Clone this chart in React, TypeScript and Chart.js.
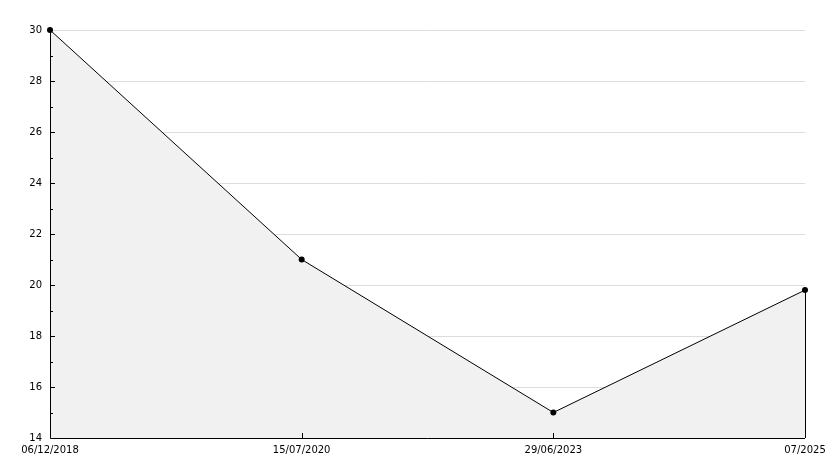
import React, { useEffect, useRef } from "react";
import { Chart, registerables } from "chart.js";

Chart.register(...registerables);

const categories = ["06/12/2018", "15/07/2020", "29/06/2023", "07/2025"];
const values = [30, 21, 15, 19.8];
const yMin = 14;
const yMax = 30;

const ticksPlugin = {
  id: "innerTicks",
  afterDatasetsDraw(chart: any) {
    const { ctx, chartArea, scales } = chart;
    const x = scales.x;
    const y = scales.y;
    ctx.save();
    ctx.strokeStyle = "#000";
    ctx.lineWidth = 1;
    ctx.beginPath();
    for (let v = yMin + 1; v < yMax; v++) {
      const py = Math.round(y.getPixelForValue(v)) + 0.5;
      const len = v % 2 === 0 ? 5 : 3;
      ctx.moveTo(chartArea.left, py);
      ctx.lineTo(chartArea.left + len, py);
    }
    for (let i = 1; i < categories.length - 1; i++) {
      const px = Math.round(x.getPixelForValue(i)) + 0.5;
      ctx.moveTo(px, chartArea.bottom);
      ctx.lineTo(px, chartArea.bottom - 5);
    }
    const lastI = categories.length - 1;
    const lx = Math.round(x.getPixelForValue(lastI)) + 0.5;
    ctx.moveTo(lx, y.getPixelForValue(values[lastI]));
    ctx.lineTo(lx, chartArea.bottom);
    const ax = Math.round(chartArea.left) + 0.5;
    const ay = Math.round(chartArea.bottom) + 0.5;
    ctx.moveTo(ax, chartArea.top);
    ctx.lineTo(ax, ay);
    ctx.lineTo(chartArea.right, ay);
    ctx.stroke();
    ctx.restore();
  },
};

export default function App() {
  const ref = useRef<HTMLCanvasElement | null>(null);
  useEffect(() => {
    document.body.style.margin = "0";
    const canvas = ref.current!;
    const chart = new Chart(canvas, {
      type: "line",
      data: {
        labels: categories,
        datasets: [
          {
            data: values,
            borderColor: "#000",
            borderWidth: 1,
            backgroundColor: "#f1f1f1",
            fill: "start",
            tension: 0,
            clip: false,
            pointRadius: 3,
            pointBackgroundColor: "#000",
            pointBorderColor: "#000",
            pointBorderWidth: 0,
          },
        ],
      },
      options: {
        responsive: false,
        animation: false,
        devicePixelRatio: 1,
        layout: { padding: { top: 30, right: 29, left: 0, bottom: 0 } },
        plugins: { legend: { display: false }, tooltip: { enabled: false } },
        font: { family: "DejaVu Sans", size: 10 },
        scales: {
          x: {
            type: "category",
            offset: false,
            grid: { display: false, drawTicks: false },
            border: { display: false },
            ticks: {
              color: "#000",
              font: { family: "DejaVu Sans", size: 10 },
              padding: 6,
              maxRotation: 0,
              autoSkip: false,
            },
            afterFit: (s: any) => {
              s.height = 30;
            },
          },
          y: {
            min: yMin,
            max: yMax,
            grid: {
              drawTicks: false,
              color: (c: any) =>
                c.tick && c.tick.value % 2 === 0 && c.tick.value !== yMin ? "#dddddd" : "rgba(0,0,0,0)",
              lineWidth: 1,
            },
            border: { display: false },
            ticks: {
              stepSize: 1,
              color: "#000",
              font: { family: "DejaVu Sans", size: 10 },
              padding: 8,
              callback: (v: any) => (Number(v) % 2 === 0 ? String(v) : ""),
            },
            afterFit: (s: any) => {
              s.width = 50;
            },
          },
        },
      },
      plugins: [ticksPlugin],
    });
    return () => chart.destroy();
  }, []);
  return (
    <div style={{ width: 834, height: 468 }}>
      <canvas ref={ref} width={834} height={468} style={{ display: "block" }} />
    </div>
  );
}
